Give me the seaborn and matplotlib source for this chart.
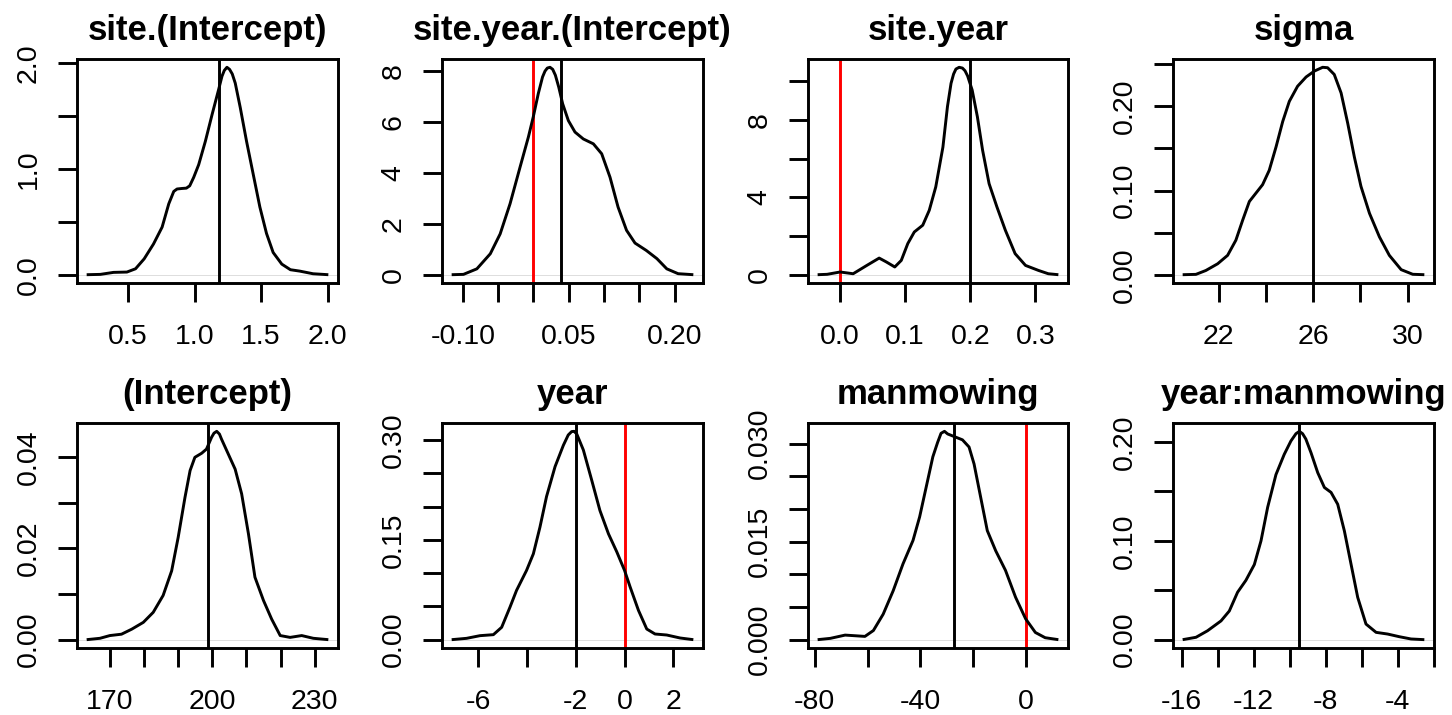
import matplotlib
matplotlib.use("Agg")
import matplotlib.pyplot as plt
import seaborn as sns
import numpy as np
import pandas as pd

# ---------------- data ----------------
titles = ["site.(Intercept)", "site.year.(Intercept)", "site.year", "sigma",
          "(Intercept)", "year", "manmowing", "year:manmowing"]

p1_x = [0.1875, 0.29, 0.39, 0.49, 0.555, 0.62, 0.69, 0.755, 0.805, 0.8425, 0.8675, 0.905, 0.9375,
        0.9625, 0.9925, 1.03, 1.08, 1.13, 1.18, 1.205, 1.2225, 1.2425, 1.2625, 1.2825, 1.305, 1.3425,
        1.39, 1.44, 1.49, 1.54, 1.59, 1.655, 1.72, 1.79, 1.89, 2.005]
p1_y = [0.0, 0.003, 0.022, 0.025, 0.056, 0.15, 0.29, 0.45, 0.67, 0.787, 0.81, 0.815, 0.818,
        0.84, 0.92, 1.04, 1.26, 1.51, 1.75, 1.875, 1.93, 1.96, 1.94, 1.897, 1.81, 1.58,
        1.26, 0.95, 0.64, 0.39, 0.21, 0.10, 0.047, 0.034, 0.009, 0.0]

p2_x = [-0.1157, -0.099, -0.080, -0.061, -0.047, -0.033, -0.019, -0.007, 0.0, 0.007, 0.013, 0.0165,
        0.0198, 0.0236, 0.0274, 0.0312, 0.036, 0.0415, 0.0496, 0.059, 0.0708, 0.085, 0.0968, 0.1086,
        0.120, 0.132, 0.144, 0.160, 0.175, 0.189, 0.205, 0.2266]
p2_y = [0.0, 0.013, 0.23, 0.82, 1.6, 2.78, 4.2, 5.4, 6.2, 7.1, 7.75, 7.98,
        8.1, 8.13, 8.05, 7.82, 7.35, 6.7, 6.04, 5.59, 5.32, 5.13, 4.74, 3.82,
        2.65, 1.74, 1.24, 0.95, 0.63, 0.23, 0.04, 0.0]

p3_x = [-0.0346, -0.020, 0.0, 0.020, 0.041, 0.060, 0.071, 0.084, 0.094, 0.104, 0.114, 0.127, 0.137,
        0.147, 0.158, 0.165, 0.1705, 0.1744, 0.178, 0.183, 0.188, 0.192, 0.196, 0.203, 0.211, 0.219,
        0.229, 0.241, 0.254, 0.269, 0.285, 0.305, 0.320, 0.3355]
p3_y = [0.0, 0.02, 0.14, 0.05, 0.48, 0.86, 0.66, 0.40, 0.74, 1.61, 2.21, 2.56, 3.33,
        4.54, 6.6, 8.7, 9.9, 10.38, 10.64, 10.73, 10.69, 10.55, 10.28, 9.55, 8.17, 6.44,
        4.71, 3.51, 2.30, 1.09, 0.48, 0.22, 0.05, 0.0]

p4_x = [20.48, 21.04, 21.46, 21.96, 22.38, 22.73, 23.02, 23.30, 23.58, 23.86, 24.14, 24.43, 24.71,
        24.99, 25.34, 25.70, 26.05, 26.40, 26.61, 26.89, 27.18, 27.46, 27.74, 28.02, 28.38, 28.80,
        29.22, 29.72, 30.21, 30.70]
p4_y = [0.0, 0.0004, 0.005, 0.013, 0.023, 0.041, 0.065, 0.087, 0.097, 0.107, 0.124, 0.152, 0.182,
        0.206, 0.224, 0.235, 0.242, 0.2465, 0.246, 0.238, 0.216, 0.180, 0.140, 0.105, 0.073, 0.045,
        0.023, 0.006, 0.0005, 0.0]

p5_x = [163.2, 167.1, 170.0, 173.4, 176.4, 179.8, 182.7, 185.6, 188.1, 190.0, 192.0, 193.5, 194.9,
        196.9, 198.3, 199.8, 200.5, 201.3, 202.1, 202.7, 204.7, 206.7, 208.6, 210.6, 212.5, 215.0,
        217.4, 219.9, 222.8, 226.2, 229.6, 234.0]
p5_y = [0.0, 0.0003, 0.0009, 0.0012, 0.0023, 0.0038, 0.006, 0.0097, 0.0151, 0.0224, 0.0312, 0.0371,
        0.0400, 0.0409, 0.0418, 0.0444, 0.0453, 0.0457, 0.0451, 0.0440, 0.0407, 0.0374, 0.0320,
        0.0232, 0.0137, 0.0086, 0.0045, 0.0009, 0.0005, 0.0009, 0.0003, 0.0]

p6_x = [-7.09, -6.48, -5.93, -5.38, -5.04, -4.70, -4.43, -4.02, -3.74, -3.47, -3.20, -2.85, -2.51,
        -2.31, -2.17, -2.07, -1.96, -1.69, -1.35, -1.01, -0.66, -0.32, 0.0, 0.23, 0.57, 0.91, 1.25,
        1.73, 2.28, 2.82]
p6_y = [0.0, 0.002, 0.006, 0.0075, 0.0186, 0.0487, 0.074, 0.104, 0.129, 0.169, 0.215, 0.260, 0.292,
        0.3075, 0.3126, 0.313, 0.309, 0.285, 0.240, 0.194, 0.159, 0.132, 0.104, 0.079, 0.044,
        0.016, 0.0085, 0.007, 0.0025, 0.0]

p7_x = [-78.9, -74.1, -68.5, -64.7, -61.0, -57.8, -54.1, -50.3, -46.6, -42.8, -40.3, -37.8, -35.3,
        -33.5, -32.2, -30.9, -29.7, -26.6, -24.1, -21.6, -19.7, -17.2, -14.7, -11.5, -7.8, -4.0,
        -0.2, 3.5, 7.2, 12.2]
p7_y = [0.0, 0.0002, 0.0007, 0.0006, 0.0005, 0.0014, 0.0039, 0.0075, 0.0116, 0.0152, 0.0188, 0.0234,
        0.0280, 0.0302, 0.0316, 0.0319, 0.0315, 0.0310, 0.0306, 0.0295, 0.0269, 0.0218, 0.0167,
        0.0136, 0.0106, 0.0065, 0.0032, 0.0011, 0.0003, 0.0]

p8_x = [-15.94, -15.2, -14.56, -13.81, -13.35, -12.89, -12.43, -11.96, -11.59, -11.22, -10.76, -10.30,
        -9.93, -9.65, -9.46, -9.28, -9.1, -8.81, -8.44, -8.07, -7.70, -7.33, -6.96, -6.59, -6.22,
        -5.76, -5.20, -4.56, -3.91, -3.26, -2.52]
p8_y = [0.0, 0.0024, 0.009, 0.019, 0.029, 0.048, 0.060, 0.076, 0.100, 0.134, 0.167, 0.1875,
        0.201, 0.2084, 0.2108, 0.2084, 0.203, 0.189, 0.169, 0.154, 0.149, 0.137, 0.110, 0.0764,
        0.0428, 0.0158, 0.0074, 0.0057, 0.003, 0.0007, 0.0]

means = [1.18, 0.039, 0.199, 26.0, 198.7, -2.0, -27.2, -9.5]
ref_value = 0.0

x_ticks = [[0.5, 1.0, 1.5, 2.0],
           [-0.10, -0.05, 0.0, 0.05, 0.10, 0.15, 0.20],
           [0.0, 0.1, 0.2, 0.3],
           [22, 24, 26, 28, 30],
           [170, 180, 190, 200, 210, 220, 230],
           [-6, -4, -2, 0, 2],
           [-80, -60, -40, -20, 0],
           [-16, -14, -12, -10, -8, -6, -4, -2]]
x_labels = [["0.5", "1.0", "1.5", "2.0"],
            ["-0.10", "", "", "0.05", "", "", "0.20"],
            ["0.0", "0.1", "0.2", "0.3"],
            ["22", "", "26", "", "30"],
            ["170", "", "", "200", "", "", "230"],
            ["-6", "", "-2", "0", "2"],
            ["-80", "", "-40", "", "0"],
            ["-16", "", "-12", "", "-8", "", "-4", ""]]
y_ticks = [[0.0, 0.5, 1.0, 1.5, 2.0],
           [0, 2, 4, 6, 8],
           [0, 2, 4, 6, 8, 10],
           [0.0, 0.05, 0.10, 0.15, 0.20, 0.25],
           [0.0, 0.01, 0.02, 0.03, 0.04],
           [0.0, 0.05, 0.10, 0.15, 0.20, 0.25, 0.30],
           [0.0, 0.005, 0.010, 0.015, 0.020, 0.025, 0.030],
           [0.0, 0.05, 0.10, 0.15, 0.20]]
y_labels = [["0.0", "", "1.0", "", "2.0"],
            ["0", "2", "4", "6", "8"],
            ["0", "", "4", "", "8", ""],
            ["0.00", "", "0.10", "", "0.20", ""],
            ["0.00", "", "0.02", "", "0.04"],
            ["0.00", "", "", "0.15", "", "", "0.30"],
            ["0.000", "", "", "0.015", "", "", "0.030"],
            ["0.00", "", "0.10", "", "0.20"]]

curves_x = [p1_x, p2_x, p3_x, p4_x, p5_x, p6_x, p7_x, p8_x]
curves_y = [p1_y, p2_y, p3_y, p4_y, p5_y, p6_y, p7_y, p8_y]

# ---------------- figure ----------------
sns.set_theme(style="ticks")
plt.rcParams["font.family"] = ["Liberation Sans", "DejaVu Sans"]
plt.rcParams["text.color"] = "black"
plt.rcParams["axes.labelcolor"] = "black"
plt.rcParams["xtick.color"] = "black"
plt.rcParams["ytick.color"] = "black"
plt.rcParams["lines.solid_joinstyle"] = "round"
plt.rcParams["lines.solid_capstyle"] = "butt"

W, H = 1452, 715
fig = plt.figure(figsize=(W / 100, H / 100), dpi=100)
fig.patch.set_facecolor("white")

col_px = [(77, 338), (442, 703), (808, 1068), (1173, 1434)]
row_px = [(59, 283), (423, 648)]

lw = 2.1
for i in range(8):
    r, c = divmod(i, 4)
    x0, x1 = col_px[c]
    y0, y1 = row_px[r]
    ax = fig.add_axes([x0 / W, 1 - y1 / H, (x1 - x0) / W, (y1 - y0) / H])
    ax.set_facecolor("white")
    df = pd.DataFrame({"x": curves_x[i], "density": curves_y[i]})
    ax.axhline(0, color="#d8d8d8", lw=0.6, zorder=1)
    sns.lineplot(data=df, x="x", y="density", ax=ax, color="black", lw=lw,
                 sort=False, estimator=None, zorder=3)
    ax.axvline(means[i], color="black", lw=lw, zorder=2)
    xmin, xmax = min(curves_x[i]), max(curves_x[i])
    ymax = max(curves_y[i])
    px = 0.04 * (xmax - xmin)
    py = 0.04 * ymax
    if xmin - px < ref_value < xmax + px:
        ax.axvline(ref_value, color="#ff0000", lw=lw, zorder=2)
    ax.set_xlim(xmin - px, xmax + px)
    ax.set_ylim(-py, ymax + py)
    ax.set_xticks(x_ticks[i])
    ax.set_xticklabels(x_labels[i])
    ax.set_yticks(y_ticks[i])
    ax.set_yticklabels(y_labels[i], rotation=90, va="center")
    ax.set_xlabel("")
    ax.set_ylabel("")
    ax.set_title(titles[i], fontsize=25, fontweight="bold", pad=14, color="black")
    for s in ax.spines.values():
        s.set_visible(True)
        s.set_color("black")
        s.set_linewidth(2.1)
    ax.tick_params(axis="both", which="major", direction="out", length=13.5, width=2.1,
                   color="black", labelsize=20.5, labelcolor="black")
    ax.tick_params(axis="x", pad=16)
    ax.tick_params(axis="y", pad=12)
    ax.grid(False)

fig.savefig("out.png", dpi=100, facecolor="white")
